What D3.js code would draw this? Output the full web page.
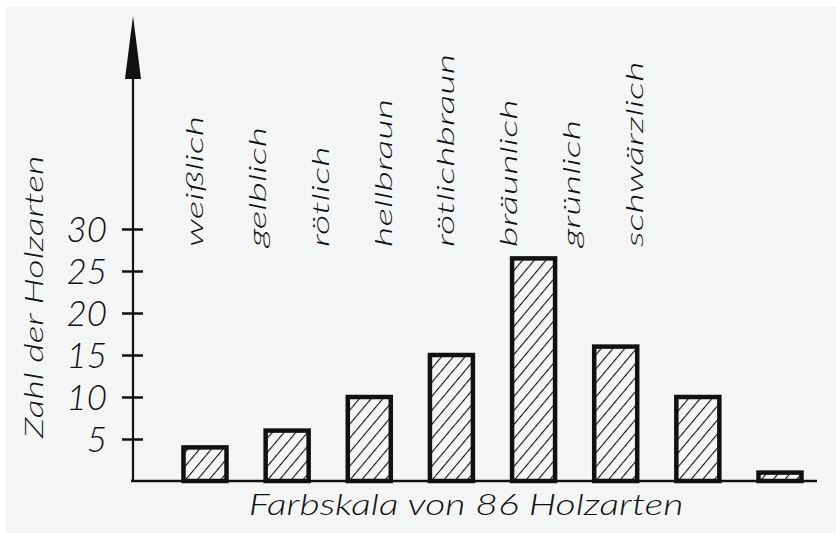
<!DOCTYPE html>
<html>
<head>
<meta charset="utf-8">
<script src="https://cdn.jsdelivr.net/npm/d3@7"></script>
<style>
  html, body { margin: 0; padding: 0; background: #fff; }
  svg text { font-family: Lato, "Liberation Sans", sans-serif; font-style: italic; font-weight: 300; fill: #111; }
</style>
</head>
<body>
<svg id="chart" width="836" height="533"></svg>
<script>
const categories = ["weißlich", "gelblich", "rötlich", "hellbraun", "rötlichbraun", "bräunlich", "grünlich", "schwärzlich"];
const counts = [4, 6, 10, 15, 26.5, 16, 10, 1];
const yTicks = [5, 10, 15, 20, 25, 30];
const yTitle = "Zahl der Holzarten";
const xTitle = "Farbskala von 86 Holzarten";

const svg = d3.select("#chart"),
  width = 836,
  height = 533,
  axisX = 133,
  baseY = 481,
  barWidth = 43;

// paper background with a thin white rim at top/left
svg.append("rect").attr("x", 6).attr("y", 7)
  .attr("width", width - 6).attr("height", height - 7)
  .attr("fill", "#f4f6f6");

const defs = svg.append("defs");
const hatch = defs.append("pattern")
  .attr("id", "hatch")
  .attr("patternUnits", "userSpaceOnUse")
  .attr("width", 9)
  .attr("height", 9)
  .attr("patternTransform", "rotate(40)");
hatch.append("rect").attr("width", 9).attr("height", 9).attr("fill", "#f4f6f6");
hatch.append("line")
  .attr("x1", 0).attr("y1", 0).attr("x2", 0).attr("y2", 9)
  .attr("stroke", "#111").attr("stroke-width", 2.2);

const y = d3.scaleLinear().domain([0, 30]).range([baseY, 229]);
const xBar = d3.scalePoint().domain(categories).range([205, 780]);
const xLabel = d3.scalePoint().domain(categories).range([196, 636]);

// bars
svg.append("g")
  .selectAll("rect")
  .data(categories)
  .enter()
  .append("rect")
  .attr("x", (d) => xBar(d) - barWidth / 2)
  .attr("y", (d, i) => y(counts[i]))
  .attr("width", barWidth)
  .attr("height", (d, i) => baseY - y(counts[i]))
  .attr("fill", "url(#hatch)")
  .attr("stroke", "#111")
  .attr("stroke-width", 4.5);

// baseline
svg.append("line")
  .attr("x1", axisX - 2).attr("x2", 817)
  .attr("y1", baseY).attr("y2", baseY)
  .attr("stroke", "#111").attr("stroke-width", 2.5);

// y axis with ticks crossing the line
const yAxis = svg.append("g")
  .attr("transform", `translate(${axisX},0)`)
  .call(d3.axisLeft(y).tickValues(yTicks).tickSize(0).tickPadding(26));
yAxis.select(".domain").remove();
yAxis.selectAll(".tick").append("line")
  .attr("x1", -11).attr("x2", 10)
  .attr("stroke", "#111").attr("stroke-width", 2.5);
yAxis.selectAll(".tick text")
  .attr("font-size", 35)
  .attr("dy", "0.36em")
  .attr("fill", "#111");
yAxis.attr("font-family", null).attr("font-size", null);

svg.append("line")
  .attr("x1", axisX).attr("x2", axisX)
  .attr("y1", baseY + 1).attr("y2", 70)
  .attr("stroke", "#111").attr("stroke-width", 2.2);
svg.append("path")
  .attr("d", `M${axisX},16 L${axisX + 8},79 L${axisX - 8},79 Z`)
  .attr("fill", "#111");

// category labels, rotated
svg.append("g")
  .selectAll("text")
  .data(categories)
  .enter()
  .append("text")
  .attr("transform", (d) => `translate(${xLabel(d) + 7},247) rotate(-90) scale(1.65,1)`)
  .attr("font-size", 24)
  .text((d) => d);

// axis titles
svg.append("text")
  .attr("transform", "translate(43,297) rotate(-90) scale(1.45,1)")
  .attr("text-anchor", "middle")
  .attr("font-size", 26)
  .text(yTitle);

svg.append("text")
  .attr("transform", "translate(466,515) scale(1.35,1)")
  .attr("text-anchor", "middle")
  .attr("font-size", 29)
  .text(xTitle);
</script>
</body>
</html>
